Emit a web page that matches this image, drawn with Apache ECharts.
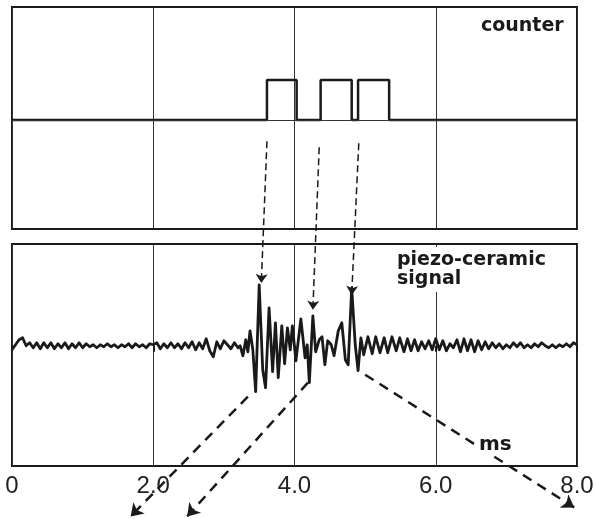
<!DOCTYPE html>
<html>
<head>
<meta charset="utf-8">
<script src="https://cdn.jsdelivr.net/npm/echarts@6/dist/echarts.min.js"></script>
<style>
html,body{margin:0;padding:0;background:#fff;}
#c{width:594px;height:519px;}
</style>
</head>
<body>
<div id="c"></div>
<script>
// ---- data ----
const xTickLabels = ['0', '2.0', '4.0', '6.0', '8.0'];
const xTickValues = [0, 2, 4, 6, 8];

// counter trace (time in ms, level in arbitrary units)
const counterTimes  = [0, 3.61, 3.61, 4.03, 4.03, 4.37, 4.37, 4.81, 4.81, 4.90, 4.90, 5.34, 5.34, 8];
const counterLevels = [0, 0,    2,    2,    0,    0,    2,    2,    0,    0,    2,    2,    0,    0];

// piezo-ceramic signal (time in ms, amplitude in arbitrary units)
const sigT = [
  0.00,0.05,0.10,0.15,0.20,0.25,0.30,0.35,0.40,0.45,
  0.50,0.55,0.60,0.65,0.70,0.75,0.80,0.85,0.90,0.95,
  1.00,1.05,1.10,1.15,1.20,1.25,1.30,1.35,1.40,1.45,
  1.50,1.55,1.60,1.65,1.70,1.75,1.80,1.85,1.90,1.95,
  2.00,2.05,2.10,2.15,2.20,2.25,2.30,2.35,2.40,2.45,
  2.50,2.55,2.60,2.65,2.70,2.75,2.80,2.85,2.90,2.95,
  3.00,3.05,3.10,3.15,3.20,
  3.23,3.27,3.31,3.34,3.37,3.41,3.45,3.50,3.55,3.59,
  3.64,3.69,3.73,3.77,3.82,3.86,3.90,3.94,3.97,4.02,
  4.09,4.15,4.18,4.21,4.26,4.30,4.35,4.39,4.43,4.47,
  4.52,4.56,4.62,4.67,4.72,4.76,4.81,4.86,4.90,4.94,
  4.98,5.04,5.10,5.15,5.21,5.27,5.32,5.38,5.44,5.49,
  5.55,5.60,5.65,5.70,5.75,5.80,5.85,5.90,5.95,6.00,
  6.05,6.10,6.15,6.20,6.25,6.30,6.35,6.40,6.45,6.50,
  6.55,6.60,6.65,6.70,6.75,6.80,6.85,6.90,6.95,7.00,
  7.05,7.10,7.15,7.20,7.25,7.30,7.35,7.40,7.45,7.50,
  7.55,7.60,7.65,7.70,7.75,7.80,7.85,7.90,7.95,8.00
];
const sigV = [
  -0.4,0.1,0.6,0.8,0.0,0.3,-0.2,0.3,-0.3,0.3,
  -0.2,0.3,-0.3,0.2,-0.2,0.3,-0.3,0.2,-0.2,0.3,
  -0.2,0.2,-0.1,0.1,-0.2,0.1,-0.1,0.2,-0.1,0.1,
  -0.2,0.1,-0.1,0.2,-0.2,0.2,-0.1,0.1,-0.2,0.2,
  0.1,0.3,-0.3,0.2,-0.2,0.3,-0.2,0.2,-0.3,0.3,
  -0.2,0.4,-0.4,0.3,-0.3,0.7,-0.5,-1.1,0.4,-0.3,
  0.5,0.1,-0.3,0.3,-0.2,
  0.0,-1.0,0.6,-0.6,1.5,-0.4,-4.6,6.1,-2.4,-4.2,
  3.8,-2.6,2.3,-3.2,2.0,-1.8,1.8,-0.4,2.0,-1.5,
  2.7,-1.2,0.1,-3.7,3.0,-0.6,0.6,0.9,-1.9,0.5,
  0.1,-1.0,1.5,2.3,-1.4,-1.9,5.8,0.1,-2.5,0.8,
  -0.9,0.9,-0.8,0.9,-0.7,0.8,-0.7,0.9,-0.5,0.8,
  -0.6,0.7,-0.5,0.6,-0.5,0.4,-0.3,0.5,-0.4,0.7,
  -0.4,0.5,-0.5,0.2,-0.2,0.6,-0.6,0.7,-0.5,0.6,
  -0.6,0.5,-0.4,0.4,-0.3,0.3,-0.2,0.2,-0.3,0.1,
  -0.2,0.3,-0.1,0.3,-0.2,0.1,-0.2,0.2,-0.1,0.3,
  0.0,-0.2,0.1,-0.2,0.1,-0.1,0.2,-0.1,0.3,0.1
];

// dashed annotation arrows, in the lower panel's data units [ms, amplitude]
const arrowsDownStart = [[3.61, 20.5], [4.35, 19.9], [4.91, 20.3]];
const arrowsDownEnd   = [[3.53, 6.3],  [4.26, 3.6],  [4.81, 5.1]];
const arrowsOutStart  = [[3.34, -5.1], [4.19, -3.7], [5.00, -2.9]];
const arrowsOutEnd    = [[1.68, -17.1],[2.48, -17.1],[7.96, -16.2]];

// ---- chart ----
const ink = '#1a1a1a';
const chart = echarts.init(document.getElementById('c'), null, {renderer: 'canvas'});

const counterData = counterTimes.map((t, i) => [t, counterLevels[i]]);
const sigData = sigT.map((t, i) => [t, sigV[i]]);
const downLines = arrowsDownStart.map((s, i) => ({coords: [s, arrowsDownEnd[i]]}));
const outLines = arrowsOutStart.map((s, i) => ({coords: [s, arrowsOutEnd[i]]}));

const option = {
  backgroundColor: '#fff',
  animation: false,
  grid: [
    {left: 12, top: 7, width: 565, height: 222, show: true, borderColor: ink, borderWidth: 2,
     backgroundColor: 'transparent', containLabel: false, outerBoundsMode: 'none'},
    {left: 12, top: 244, width: 565, height: 222, show: true, borderColor: ink, borderWidth: 2,
     backgroundColor: 'transparent', containLabel: false, outerBoundsMode: 'none'}
  ],
  xAxis: [
    {type: 'value', gridIndex: 0, min: 0, max: 8, interval: 2,
     axisLine: {show: false}, axisTick: {show: false}, axisLabel: {show: false},
     splitLine: {show: true, lineStyle: {color: '#333', width: 1}}},
    {type: 'value', gridIndex: 1, min: 0, max: 8, interval: 2,
     axisLine: {show: false},
     axisTick: {show: true, length: 6, lineStyle: {color: ink, width: 2}},
     axisLabel: {show: true, margin: 8, fontSize: 24, fontFamily: 'Liberation Sans', color: '#222',
       hideOverlap: false,
       formatter: v => { const i = xTickValues.indexOf(v); return i >= 0 ? xTickLabels[i] : ''; }},
     splitLine: {show: true, lineStyle: {color: '#333', width: 1}}}
  ],
  yAxis: [
    {type: 'value', gridIndex: 0, min: -5.45, max: 5.65,
     axisLine: {show: false}, axisTick: {show: false}, axisLabel: {show: false}, splitLine: {show: false}},
    {type: 'value', gridIndex: 1, min: -12.05, max: 10.2,
     axisLine: {show: false}, axisTick: {show: false}, axisLabel: {show: false}, splitLine: {show: false}}
  ],
  series: [
    {type: 'line', xAxisIndex: 0, yAxisIndex: 0, data: counterData, showSymbol: false,
     lineStyle: {color: ink, width: 2.5}, z: 3,
     markLine: {silent: true, symbol: 'none', label: {show: false},
       lineStyle: {color: '#333', width: 1, type: 'solid'}, data: [{yAxis: 0}]}},
    {type: 'line', xAxisIndex: 1, yAxisIndex: 1, data: sigData, showSymbol: false, smooth: false,
     lineStyle: {color: ink, width: 2.8, join: 'round'}, z: 3},
    {type: 'lines', coordinateSystem: 'cartesian2d', xAxisIndex: 1, yAxisIndex: 1, clip: false,
     data: downLines, symbol: ['none', 'arrow'], symbolSize: [6, 9], z: 4,
     lineStyle: {color: ink, width: 1.5, type: [7, 4], opacity: 1, curveness: 0}},
    {type: 'lines', coordinateSystem: 'cartesian2d', xAxisIndex: 1, yAxisIndex: 1, clip: false,
     data: outLines, symbol: ['none', 'arrow'], symbolSize: [10, 12], z: 4,
     lineStyle: {color: ink, width: 2.5, type: [10, 7], opacity: 1, curveness: 0}}
  ],
  graphic: [
    {type: 'text', z: 50, style: {text: 'counter', x: 481, y: 26, verticalAlign: 'middle',
      font: 'bold 19px "DejaVu Sans"', fill: ink}},
    {type: 'rect', z: 49, shape: {x: 392, y: 247, width: 166, height: 45}, style: {fill: '#fff'}},
    {type: 'text', z: 50, style: {text: 'piezo-ceramic', x: 397, y: 260, verticalAlign: 'middle',
      font: 'bold 19px "DejaVu Sans"', fill: ink}},
    {type: 'text', z: 50, style: {text: 'signal', x: 397, y: 279, verticalAlign: 'middle',
      font: 'bold 19px "DejaVu Sans"', fill: ink}},
    {type: 'text', z: 50, style: {text: 'ms', x: 477, y: 445, verticalAlign: 'middle',
      font: 'bold 20px "DejaVu Sans"', fill: ink, backgroundColor: '#fff', padding: [0, 2, 0, 2]}}
  ]
};
chart.setOption(option);
</script>
</body>
</html>
